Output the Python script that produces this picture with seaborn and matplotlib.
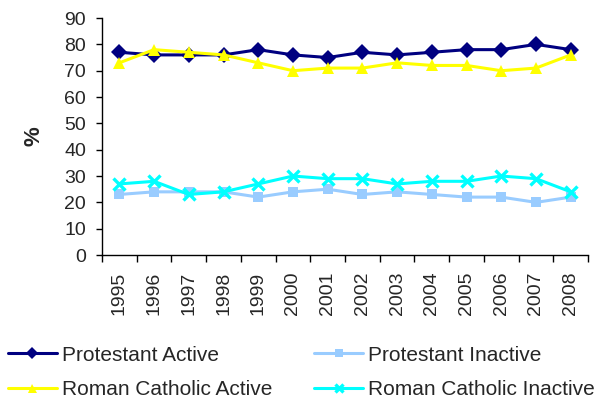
import matplotlib
matplotlib.use("Agg")
import matplotlib.pyplot as plt
import seaborn as sns
import pandas as pd
import numpy as np

years = ["1995", "1996", "1997", "1998", "1999", "2000", "2001",
         "2002", "2003", "2004", "2005", "2006", "2007", "2008"]
protestant_active = [77, 76, 76, 76, 78, 76, 75, 77, 76, 77, 78, 78, 80, 78]
protestant_inactive = [23, 24, 24, 24, 22, 24, 25, 23, 24, 23, 22, 22, 20, 22]
catholic_active = [73, 78, 77, 76, 73, 70, 71, 71, 73, 72, 72, 70, 71, 76]
catholic_inactive = [27, 28, 23, 24, 27, 30, 29, 29, 27, 28, 28, 30, 29, 24]

series_names = ["Protestant Active", "Protestant Inactive",
                "Roman Catholic Active", "Roman Catholic Inactive"]
series_values = [protestant_active, protestant_inactive,
                 catholic_active, catholic_inactive]
colors = {"Protestant Active": "#000080", "Protestant Inactive": "#99CCFF",
          "Roman Catholic Active": "#FFFF00", "Roman Catholic Inactive": "#00FFFF"}
markers = {"Protestant Active": "D", "Protestant Inactive": "s",
           "Roman Catholic Active": "^", "Roman Catholic Inactive": "x"}
marker_sizes = {"Protestant Active": 8.5, "Protestant Inactive": 7.5,
                "Roman Catholic Active": 9, "Roman Catholic Inactive": 8}

rows = []
for name, vals in zip(series_names, series_values):
    for i, v in enumerate(vals):
        rows.append({"pos": i, "year": years[i], "series": name, "value": v})
df = pd.DataFrame(rows)

sns.set_theme(style="white")
plt.rcParams["font.family"] = ["Liberation Sans", "DejaVu Sans"]

fig = plt.figure(figsize=(6.05, 4.01), dpi=100)
ax = fig.add_axes([0.1686, 0.364, 0.8034, 0.591])

for name in series_names:
    sub = df[df["series"] == name]
    is_x = markers[name] == "x"
    sns.lineplot(data=sub, x="pos", y="value", ax=ax, color=colors[name],
                 marker=markers[name], markersize=marker_sizes[name],
                 markeredgewidth=2.4 if is_x else 0,
                 markeredgecolor=colors[name],
                 linewidth=2.2, label=name, legend=False)

ax.set_xlim(-0.5, len(years) - 0.5)
ax.set_ylim(0, 90)
ax.set_yticks(np.arange(0, 91, 10))
ax.set_xticks(np.arange(-0.5, len(years), 1.0))
ax.set_xticklabels([])
ax.set_xticks(np.arange(len(years)), minor=True)
ax.set_xticklabels(years, minor=True, rotation=90, fontsize=14)
ax.tick_params(axis="x", which="major", direction="out", length=5, width=1,
               color="black", bottom=True)
ax.tick_params(axis="x", which="minor", length=0, pad=12)
ax.tick_params(axis="y", direction="out", length=4.5, width=1, color="black",
               left=True, labelsize=14, pad=7)
for side in ["top", "right"]:
    ax.spines[side].set_visible(False)
for side in ["left", "bottom"]:
    ax.spines[side].set_color("black")
    ax.spines[side].set_linewidth(1)
ax.set_xlabel("")
ax.set_ylabel("%", fontsize=16, fontweight="bold", labelpad=14)

# legend entries read row by row: Protestant pair on top, Catholic pair below
handles, labels = ax.get_legend_handles_labels()
order = [0, 2, 1, 3]
fig.legend([handles[i] for i in order], [labels[i] for i in order],
           loc="center left", bbox_to_anchor=(0.013, 0.071),
           ncol=2, frameon=False, fontsize=15, handlelength=2.35,
           handletextpad=0.25, columnspacing=2.0, labelspacing=0.75,
           borderpad=0, borderaxespad=0, markerscale=0.72)

fig.savefig("out.png", dpi=100)
